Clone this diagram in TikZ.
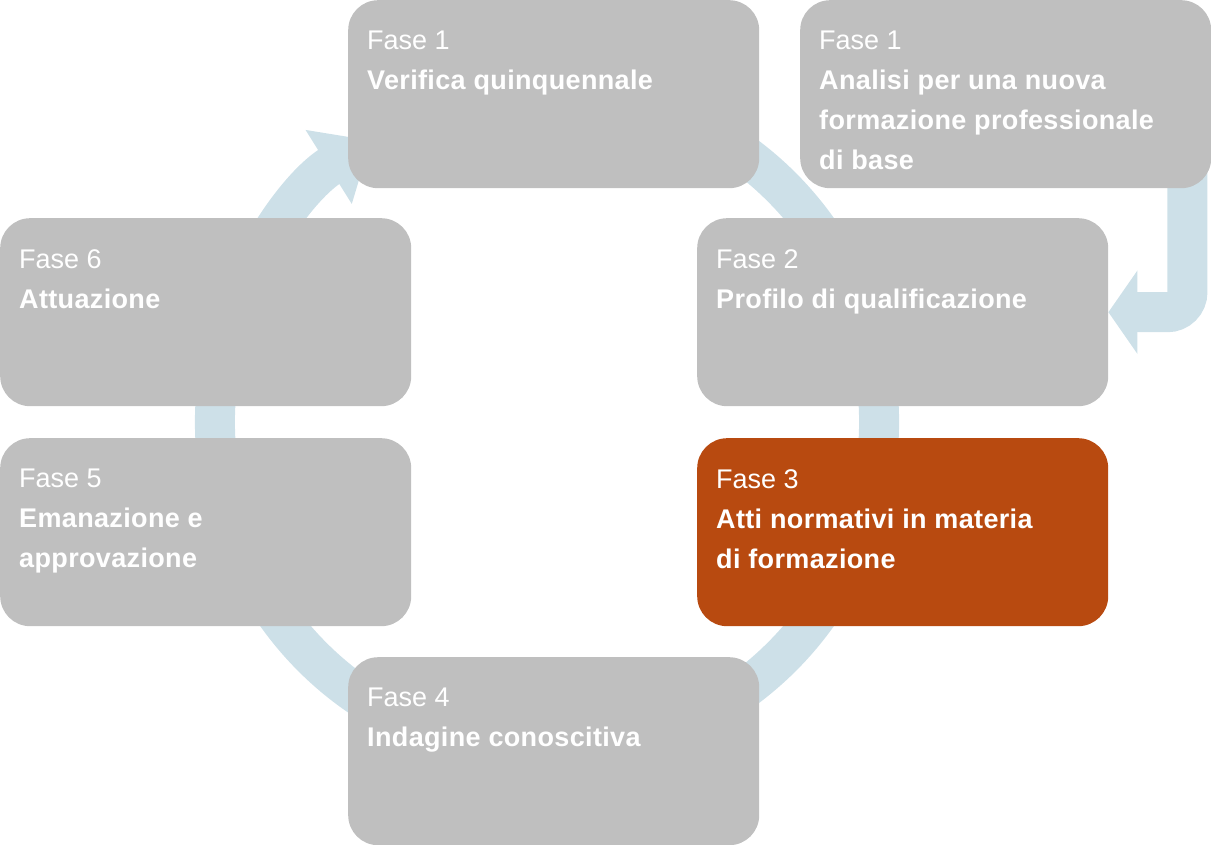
\documentclass[tikz,border=0pt]{standalone}
\usepackage{fontspec}
\setmainfont{Liberation Sans}[BoldFeatures={LetterSpace=1.3}]
\usetikzlibrary{arrows.meta,backgrounds}
\definecolor{boxgray}{RGB}{191,191,191}
\definecolor{ringblue}{RGB}{205,224,232}
\definecolor{fasered}{RGB}{184,74,16}

\begin{document}
\begin{tikzpicture}[
        x=1pt, y=-1pt,
        fase/.style={fill=boxgray, rounded corners=30pt, minimum width=411pt,
            minimum height=188pt, anchor=north west, inner sep=0pt},
        current/.style={fill=fasered},
        txt/.style={text=white, anchor=north west, align=left, inner sep=0pt,
            font=\fontsize{27}{40}\selectfont},
        ring/.style={draw=ringblue, line width=40pt},
    ]
    \useasboundingbox (0,0) rectangle (1211,845);

    % the phases
    \node[fase] (v1) at (348,0) {};
    \node[fase] (a1) at (800,0) {};
    \node[fase] (f6) at (0,218) {};
    \node[fase] (f2) at (697,218) {};
    \node[fase] (f5) at (0,438) {};
    \node[fase, current] (f3) at (697,438) {};
    \node[fase] (f4) at (348,657) {};

    \node[txt] (v1t) at ([shift={(19,31)}]v1.north west) {Fase 1\\\textbf{Verifica quinquennale}};
    \node[txt] (a1t) at ([shift={(19,31)}]a1.north west) {Fase 1\\\textbf{Analisi per una nuova}\\\textbf{formazione professionale}\\\textbf{di base}};
    \node[txt] (f6t) at ([shift={(19,31)}]f6.north west) {Fase 6\\\textbf{Attuazione}};
    \node[txt] (f2t) at ([shift={(19,31)}]f2.north west) {Fase 2\\\textbf{Profilo di qualificazione}};
    \node[txt] (f5t) at ([shift={(19,31)}]f5.north west) {Fase 5\\\textbf{Emanazione e}\\\textbf{approvazione}};
    \node[txt] (f3t) at ([shift={(19,31)}]f3.north west) {Fase 3\\\textbf{Atti normativi in materia}\\\textbf{di formazione}};
    \node[txt] (f4t) at ([shift={(19,31)}]f4.north west) {Fase 4\\\textbf{Indagine conoscitiva}};

    % cycle and entry arrow
    \begin{scope}[on background layer]
        \coordinate (c) at (547,422);
        \draw[ring, -{Triangle[length=50pt,width=84pt]}]
            ([shift={(-75:332)}]c) arc[start angle=-75, end angle=238, radius=332];
        \draw[ring, rounded corners=20pt, -{Triangle[length=29pt,width=82pt]}]
            ([xshift=-24pt,yshift=30pt]a1.south east) |- (f2.east);
    \end{scope}
\end{tikzpicture}
\end{document}
